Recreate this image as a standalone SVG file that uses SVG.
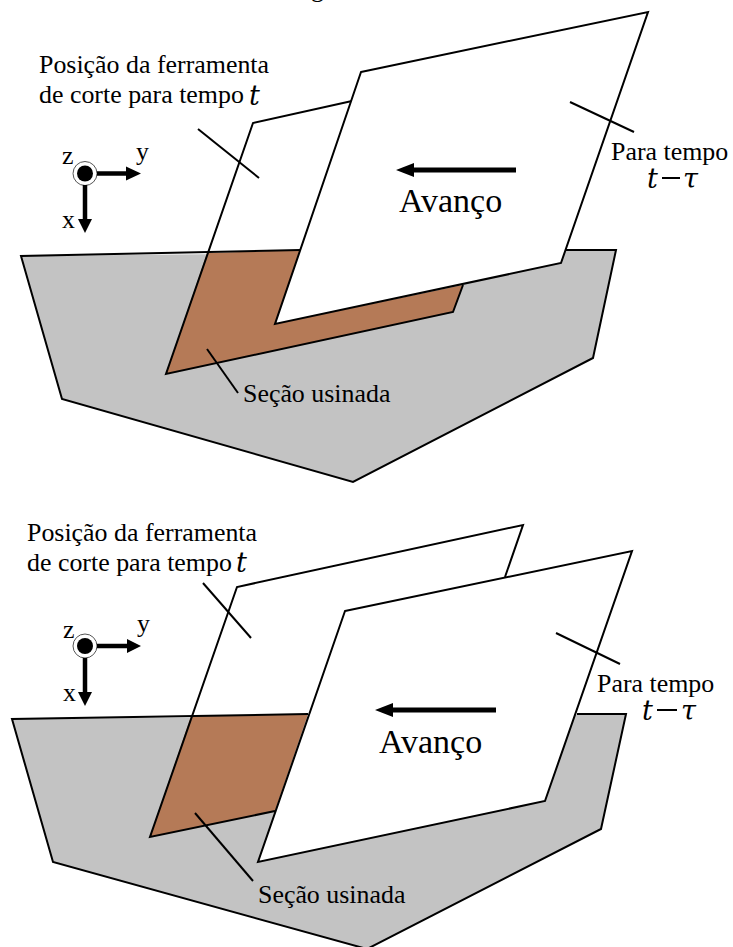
<svg xmlns="http://www.w3.org/2000/svg" width="733" height="947" viewBox="0 0 733 947">
<style>
.ln{stroke:#000;stroke-width:2;stroke-linejoin:miter;fill:none}
.gray{fill:#c3c3c3;stroke:none}
.brown{fill:#b57a57;stroke:none}
.plate{fill:#fff;stroke:#000;stroke-width:2}
.lead{stroke:#000;stroke-width:2;fill:none}
.ax{stroke:#000;stroke-width:4.500;fill:none}
.t{font-family:"Liberation Serif",serif;font-size:25.900px;fill:#000}
.av{font-size:34px}
.m{font-family:"DejaVu Serif","Liberation Serif",serif;font-style:italic;font-size:27px;fill:#000}
</style>
<rect width="733" height="947" fill="#fff"/>
<text class="t" x="311" y="-3">g</text>
<g id="top-figure">
<g id="top-workpiece">
<polygon class="gray" points="21,256 616,250 593,358 353,482 62,399"/>
<polygon class="brown" points="207,253 300,250 275,324 463,285 453,312 166,374"/>
<polyline class="ln" points="566,250 616,250 593,358 353,482 62,399 21,256 300,250"/>
</g>
<g id="top-tool-t">
<path class="ln" d="M352,101 L253,123 L166,374 L453,312 L463,285"/>
</g>
<g id="top-tool-t-tau">
<polygon class="plate" points="361,72 648,12 561,263 275,324"/>
</g>
<g id="top-axes">
<circle cx="85" cy="173.500" r="12" fill="#fff" stroke="#555" stroke-width="1"/>
<circle cx="85" cy="173.500" r="8" fill="#000"/>
<path class="ax" d="M97,173.500H128"/><polygon points="141,173.500 126,166.500 126,180.500"/>
<path class="ax" d="M85,185V221"/><polygon points="85,233 78,219 92,219"/>
<text class="t" x="62" y="164">z</text><text class="t" x="136" y="160">y</text><text class="t" x="62" y="228">x</text>
</g>
<g id="top-labels">
<text class="t" x="39" y="73">Posição da ferramenta</text>
<text class="t" x="39" y="103">de corte para tempo</text><text class="m" x="249" y="105">t</text>
<text class="t" x="611" y="160">Para tempo</text>
<text class="m" x="647" y="188">t</text><path class="lead" d="M662,178H680"/><text class="m" x="683" y="188">τ</text>
<text class="t av" x="399" y="212">Avanço</text>
<text class="t" x="243" y="402">Seção usinada</text>
</g>
</g>
<g id="bottom-figure">
<g id="bottom-workpiece">
<polygon class="gray" points="12,719 626,714 601,829 367,949 53,862"/>
<polygon class="brown" points="191,716 308,714 275,811 150,837"/>
<polyline class="ln" points="577,714 626,714 601,829 367,949 53,862 12,719 308,714"/>
</g>
<g id="bottom-tool-t">
<path class="ln" d="M505,577 L523,525 L237,587 L150,837 L275,811"/>
</g>
<g id="bottom-tool-t-tau">
<polygon class="plate" points="345,611 632,551 545,801 258,862"/>
</g>
<g id="bottom-axes">
<circle cx="85" cy="646" r="12" fill="#fff" stroke="#555" stroke-width="1"/>
<circle cx="85" cy="646" r="8" fill="#000"/>
<path class="ax" d="M97,646H130"/><polygon points="141,646 127,639 127,653"/>
<path class="ax" d="M85,658V694"/><polygon points="85,706 78,692 92,692"/>
<text class="t" x="63" y="638">z</text><text class="t" x="137" y="632">y</text><text class="t" x="63" y="701">x</text>
</g>
<g id="bottom-labels">
<text class="t" x="27" y="541">Posição da ferramenta</text>
<text class="t" x="27" y="571">de corte para tempo</text><text class="m" x="236" y="572">t</text>
<text class="t" x="597" y="692">Para tempo</text>
<text class="m" x="642" y="720">t</text><path class="lead" d="M657,710H677"/><text class="m" x="681" y="720">τ</text>
<text class="t av" x="379" y="753">Avanço</text>
<text class="t" x="258" y="903">Seção usinada</text>
</g>
</g>
<g id="connectors">
<path class="lead" d="M198,129L259,178"/>
<path class="lead" d="M570,102L634,132"/>
<path class="lead" d="M207,349L238,393"/>
<polygon points="396,170 414,163 414,167.500 516,167.500 516,172.500 414,172.500 414,177"/>
<path class="lead" d="M203,583L251,638"/>
<path class="lead" d="M556,633L620,664"/>
<path class="lead" d="M195,813L253,881"/>
<polygon points="375,710 393,703 393,707.500 496,707.500 496,712.500 393,712.500 393,717"/>
</g>
</svg>
